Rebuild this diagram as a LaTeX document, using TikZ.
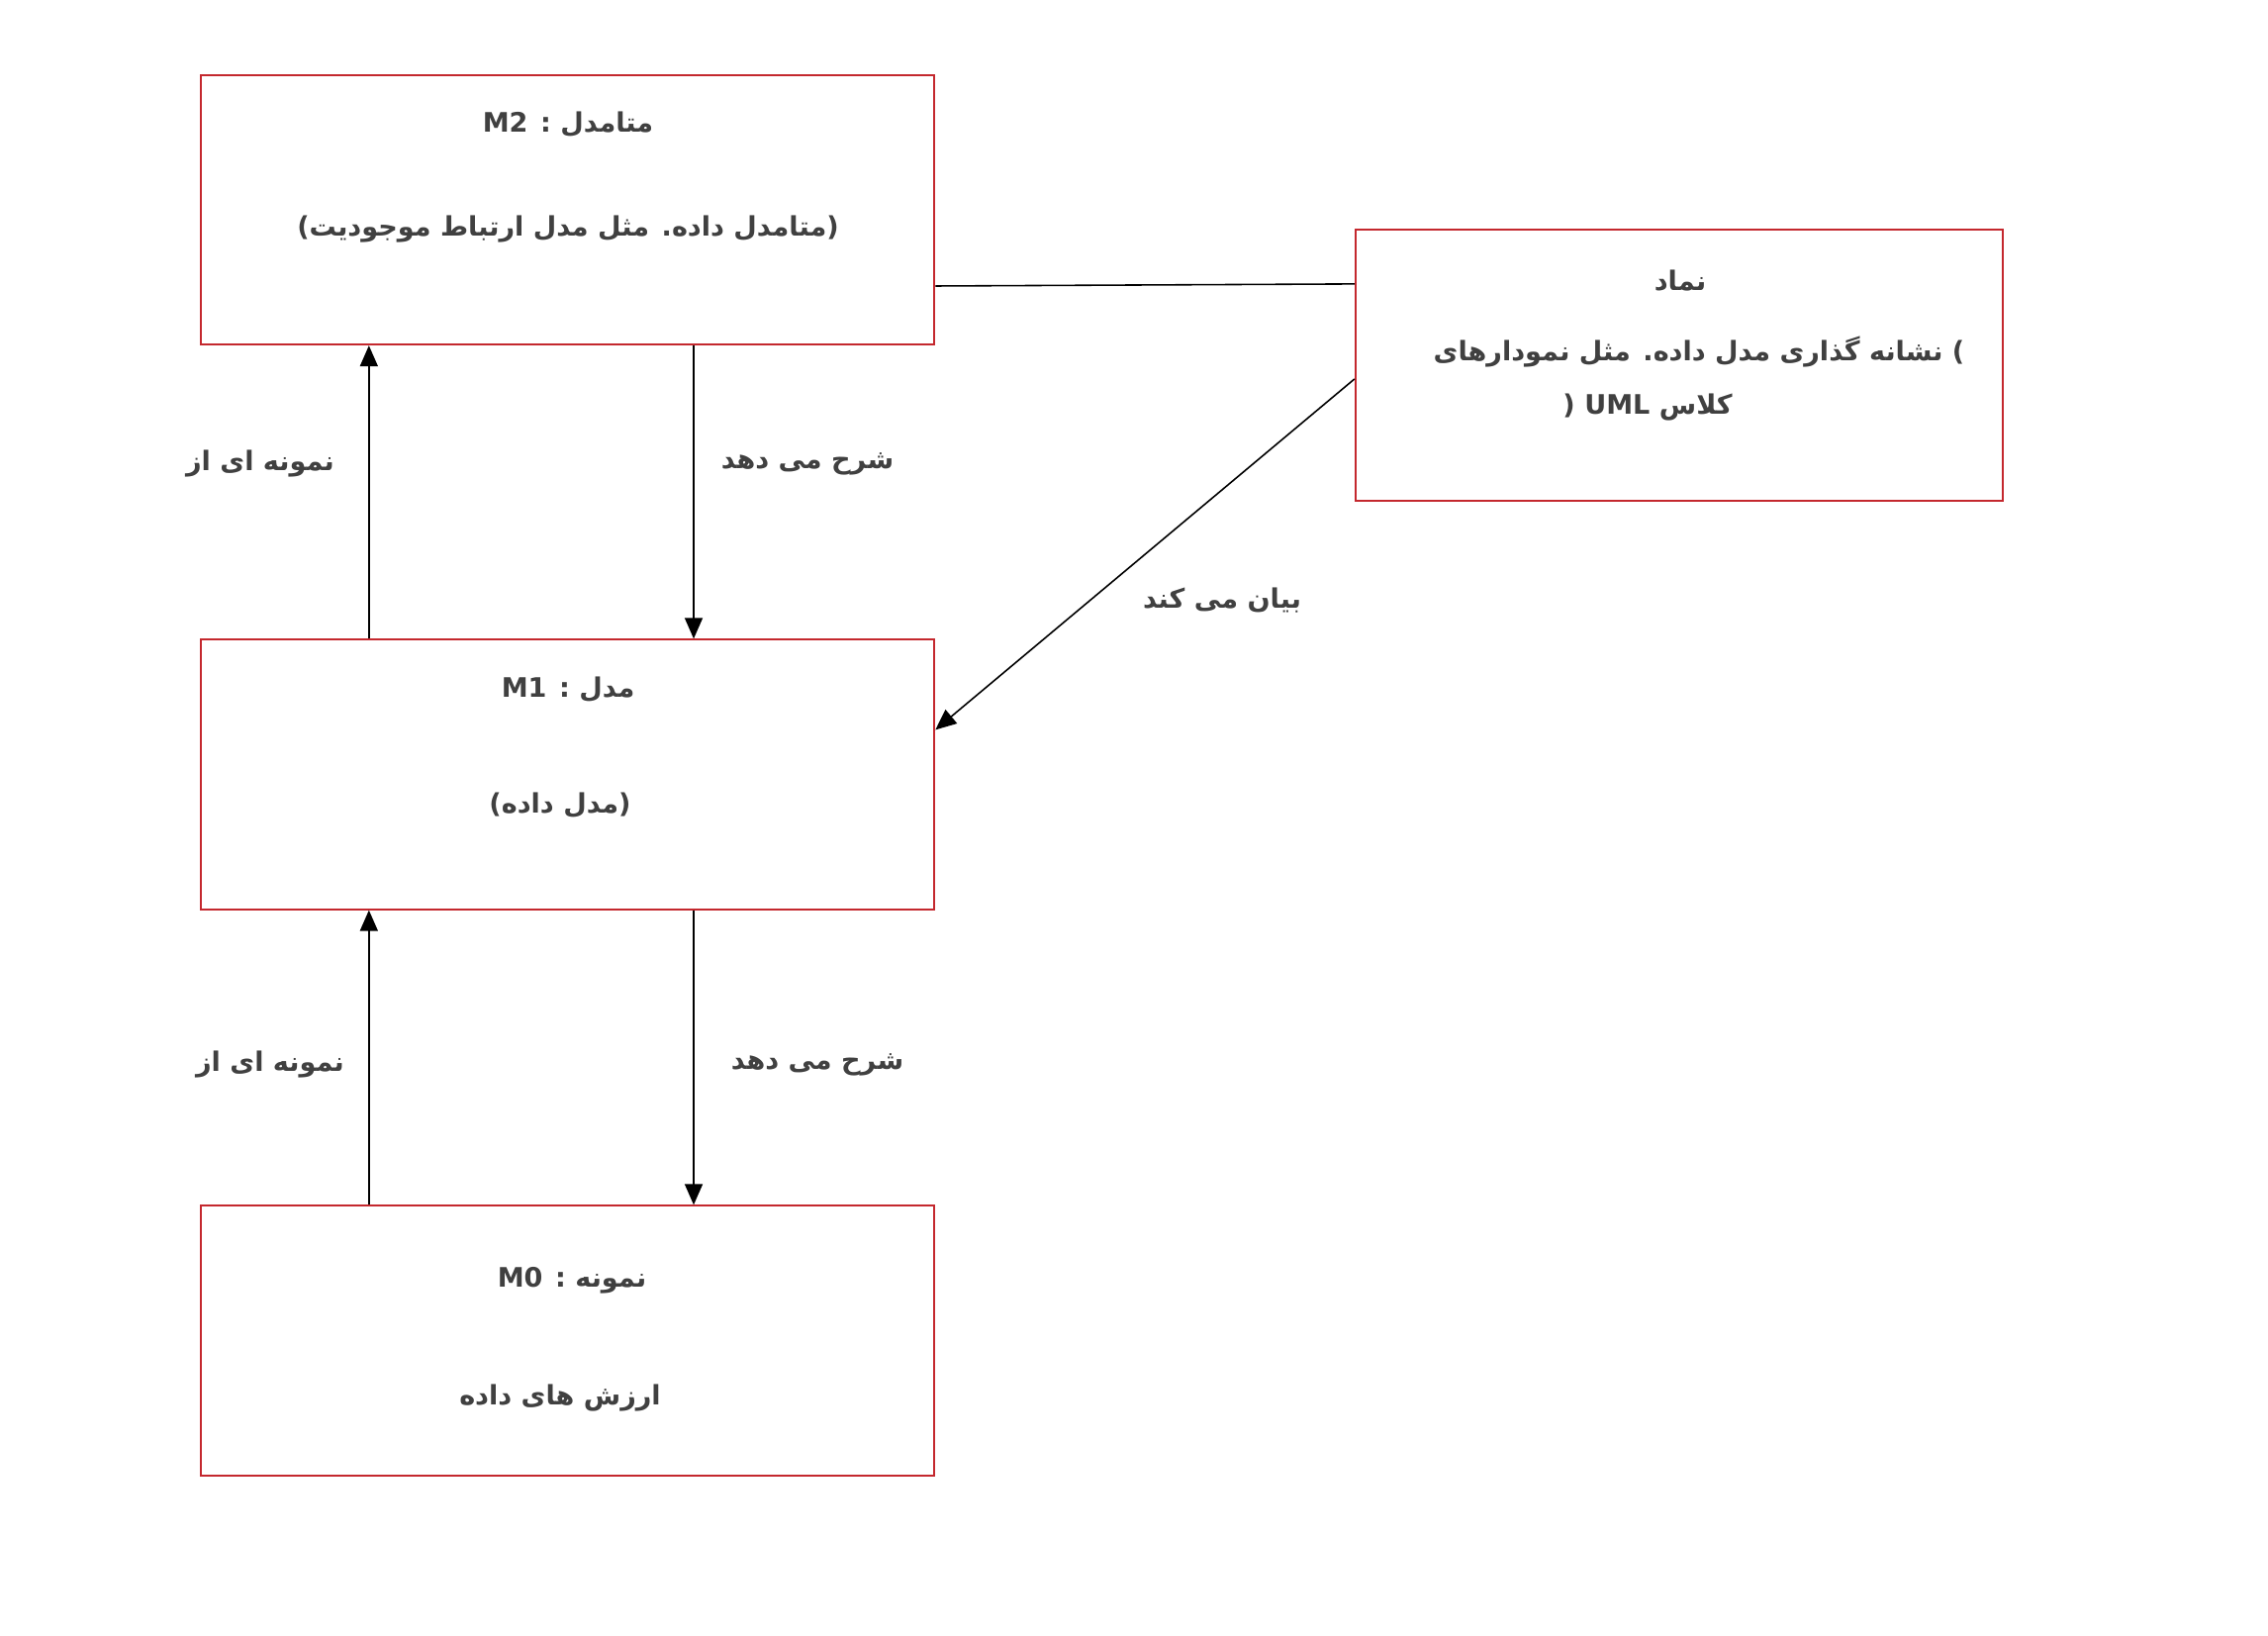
\documentclass[tikz,border=0pt]{standalone}
\usepackage{fontspec}
\newfontfamily\arabicfont[Script=Arabic]{DejaVu Sans}
\TeXXeTstate=1
\usetikzlibrary{arrows.meta,positioning}

\definecolor{boxred}{RGB}{196,40,46}
\definecolor{txtgray}{RGB}{64,64,64}

\begin{document}
\begin{tikzpicture}[x=0.01cm,y=-0.01cm,
    layer/.style={draw=boxred, line width=0.6pt, minimum width=7.41cm,
                  minimum height=2.72cm, inner sep=0pt},
    txt/.style={text=txtgray, inner sep=1pt,
                font=\arabicfont\bfseries\fontsize{7.7}{9.5}\selectfont},
    arr/.style={line width=0.45pt, -{Triangle[length=0.21cm,width=0.18cm]}}]

    % Page frame, same proportions as the reference
    \useasboundingbox (0,0) rectangle (2292,1652);

    % The three model levels, stacked on the left
    \node[layer] (m2) at (573.5,212) {};
    \node[layer] (m1) at (573.5,782.5) {};
    \node[layer] (m0) at (573.5,1354.5) {};

    % The notation box on the right
    \node[layer, minimum width=6.54cm, minimum height=2.74cm] (sym) at (1697,369) {};

    % Texts inside the boxes
    \node[txt] (m2a) at (574,126) {\beginR متامدل : M2\endR};
    \node[txt] (m2b) at (574,232) {\beginR(متامدل داده. مثل مدل ارتباط موجودیت)\endR};
    \node[txt] (m1a) at (574,697) {\beginR مدل : M1\endR};
    \node[txt] (m1b) at (566,814) {\beginR(مدل داده)\endR};
    \node[txt] (m0a) at (578,1294) {\beginR نمونه : M0\endR};
    \node[txt] (m0b) at (566,1412) {\beginR ارزش های داده\endR};
    \node[txt] (syma) at (1698,284) {\beginR نماد\endR};
    \node[txt] (symb) at (1717,355) {\beginR) نشانه گذاری مدل داده. مثل نمودارهای\endR};
    \node[txt] (symc) at (1665,412) {\beginR کلاس UML (\endR};

    % Arrows between M2 and M1
    \draw[arr] ([xshift=1.71cm]m1.north west) -- ([xshift=1.71cm]m2.south west);
    \draw[arr] ([xshift=4.99cm]m2.south west) -- ([xshift=4.99cm]m1.north west);
    \node[txt] (up1) at (263,469) {\beginR نمونه ای از\endR};
    \node[txt] (dn1) at (816,469) {\beginR شرح می دهد\endR};

    % Arrows between M1 and M0
    \draw[arr] ([xshift=1.71cm]m0.north west) -- ([xshift=1.71cm]m1.south west);
    \draw[arr] ([xshift=4.99cm]m1.south west) -- ([xshift=4.99cm]m0.north west);
    \node[txt] (up2) at (273,1076) {\beginR نمونه ای از\endR};
    \node[txt] (dn2) at (826,1076) {\beginR شرح می دهد\endR};

    % Links to the notation box
    \draw[line width=0.45pt] ([yshift=-2.14cm]m2.north east) -- ([yshift=-0.56cm]sym.north west);
    \draw[arr] ([yshift=-1.52cm]sym.north west) -- ([yshift=-0.92cm]m1.north east);
    \node[txt] (expr) at (1235,607) {\beginR بیان می کند\endR};

\end{tikzpicture}
\end{document}
